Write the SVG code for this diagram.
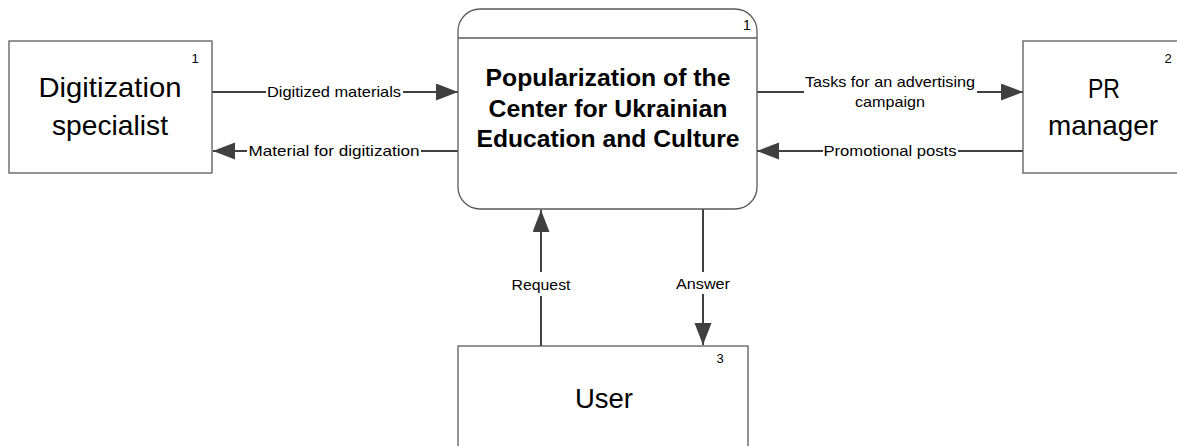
<svg xmlns="http://www.w3.org/2000/svg" width="1177" height="446" viewBox="0 0 1177 446">
<style>
.box{fill:#fff;stroke:#5a5a5a;stroke-width:1.3}
.big{font-family:"Liberation Sans",Arial,sans-serif;font-size:28px;fill:#000;text-anchor:middle}
.num{font-family:"Liberation Sans",Arial,sans-serif;font-size:13px;fill:#000;text-anchor:middle}
.title{font-family:"Liberation Sans",Arial,sans-serif;font-size:24px;font-weight:bold;fill:#000;text-anchor:middle}
.lbl{font-family:"Liberation Sans",Arial,sans-serif;font-size:15px;fill:#000;text-anchor:middle}
.flow{stroke:#404040;stroke-width:2;fill:none}
.bg{fill:#fff}
</style>
<defs>
<marker id="arr" markerUnits="userSpaceOnUse" markerWidth="24" markerHeight="18" refX="22" refY="8.5" orient="auto">
<path d="M0,0 L22,8.5 L0,17 Z" fill="#404040"/>
</marker>
</defs>
<rect width="1177" height="446" fill="#fff"/>
<g id="connectors">
<line class="flow" x1="212" y1="92" x2="458" y2="92" marker-end="url(#arr)"/>
<rect class="bg" x="266" y="84" width="137" height="17"/>
<text class="lbl" x="334" y="97" textLength="134" lengthAdjust="spacingAndGlyphs">Digitized materials</text>
<line class="flow" x1="458" y1="151" x2="213" y2="151" marker-end="url(#arr)"/>
<rect class="bg" x="247" y="143" width="174" height="17"/>
<text class="lbl" x="334" y="156" textLength="171" lengthAdjust="spacingAndGlyphs">Material for digitization</text>
<line class="flow" x1="757" y1="92" x2="1023" y2="92" marker-end="url(#arr)"/>
<rect class="bg" x="804" y="80" width="173" height="33"/>
<text class="lbl" x="890" y="87" textLength="170" lengthAdjust="spacingAndGlyphs">Tasks for an advertising</text>
<text class="lbl" x="890" y="107" textLength="70" lengthAdjust="spacingAndGlyphs">campaign</text>
<line class="flow" x1="1023" y1="151" x2="757" y2="151" marker-end="url(#arr)"/>
<rect class="bg" x="823" y="143" width="135" height="17"/>
<text class="lbl" x="890" y="156" textLength="133" lengthAdjust="spacingAndGlyphs">Promotional posts</text>
<line class="flow" x1="541" y1="346" x2="541" y2="210" marker-end="url(#arr)"/>
<rect class="bg" x="510" y="272" width="62" height="24"/>
<text class="lbl" x="541" y="290" textLength="59" lengthAdjust="spacingAndGlyphs">Request</text>
<line class="flow" x1="703" y1="209" x2="703" y2="345" marker-end="url(#arr)"/>
<rect class="bg" x="674" y="272" width="58" height="22"/>
<text class="lbl" x="703" y="289" textLength="54" lengthAdjust="spacingAndGlyphs">Answer</text>
</g>
<g id="digitization-specialist">
<rect class="box" x="9" y="41" width="203" height="132"/>
<text class="num" x="195" y="63">1</text>
<text class="big" x="110" y="97" textLength="143" lengthAdjust="spacingAndGlyphs">Digitization</text>
<text class="big" x="110" y="135" textLength="116" lengthAdjust="spacingAndGlyphs">specialist</text>
</g>
<g id="process">
<rect class="box" x="458" y="9" width="299" height="200" rx="22" ry="22"/>
<line x1="458" y1="38" x2="757" y2="38" stroke="#5a5a5a" stroke-width="1.3"/>
<text class="num" x="747" y="30" style="font-size:14px">1</text>
<text class="title" x="608" y="86" textLength="245" lengthAdjust="spacingAndGlyphs">Popularization of the</text>
<text class="title" x="608" y="117" textLength="239" lengthAdjust="spacingAndGlyphs">Center for Ukrainian</text>
<text class="title" x="608" y="147" textLength="263" lengthAdjust="spacingAndGlyphs">Education and Culture</text>
</g>
<g id="pr-manager">
<rect class="box" x="1023" y="41" width="162" height="132"/>
<text class="num" x="1168" y="63">2</text>
<text class="big" x="1104" y="98" textLength="32" lengthAdjust="spacingAndGlyphs">PR</text>
<text class="big" x="1103" y="135" textLength="110" lengthAdjust="spacingAndGlyphs">manager</text>
</g>
<g id="user">
<rect class="box" x="458" y="346" width="290" height="120"/>
<text class="num" x="720" y="363">3</text>
<text class="big" x="604" y="408" textLength="58" lengthAdjust="spacingAndGlyphs">User</text>
</g>
</svg>
